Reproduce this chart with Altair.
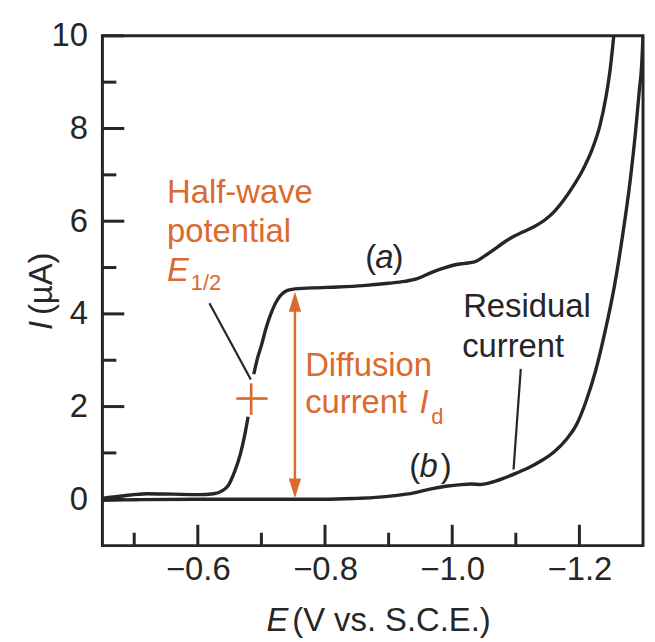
import altair as alt
import pandas as pd

# ---------------- data ----------------
# curve (a): polarographic wave (split where it is interrupted by the E1/2 marker)
a_low_E = [-0.450, -0.480, -0.520, -0.560, -0.600, -0.625, -0.638, -0.648, -0.658, -0.667, -0.674, -0.679]
a_low_I = [0.02, 0.07, 0.12, 0.11, 0.10, 0.12, 0.18, 0.30, 0.60, 0.98, 1.40, 1.78]
a_up_E = [-0.688, -0.694, -0.700, -0.707, -0.714, -0.721, -0.729, -0.738, -0.748, -0.780, -0.820,
          -0.860, -0.900, -0.925, -0.945, -0.965, -0.985, -1.005, -1.020, -1.035, -1.050, -1.065,
          -1.080, -1.095, -1.110, -1.130, -1.145, -1.160, -1.175, -1.190, -1.205, -1.220, -1.232,
          -1.242, -1.249, -1.254]
a_up_I = [2.70, 3.05, 3.32, 3.68, 3.97, 4.20, 4.38, 4.49, 4.53, 4.56, 4.58,
          4.61, 4.66, 4.70, 4.76, 4.88, 4.98, 5.06, 5.09, 5.12, 5.24, 5.38,
          5.53, 5.66, 5.76, 5.89, 6.02, 6.20, 6.45, 6.75, 7.10, 7.55, 8.05,
          8.70, 9.35, 10.0]
# curve (b): residual current
b_E = [-0.450, -0.500, -0.600, -0.700, -0.800, -0.850, -0.880, -0.910, -0.940, -0.965, -0.990,
       -1.010, -1.030, -1.045, -1.060, -1.080, -1.100, -1.120, -1.140, -1.160, -1.180, -1.195,
       -1.210, -1.225, -1.240, -1.255, -1.268, -1.280, -1.288, -1.294, -1.298, -1.300]
b_I = [-0.02, -0.01, 0.00, 0.00, 0.00, 0.02, 0.04, 0.08, 0.14, 0.22, 0.28,
       0.31, 0.33, 0.32, 0.36, 0.45, 0.56, 0.68, 0.83, 1.02, 1.30, 1.60,
       2.10, 2.75, 3.60, 4.60, 5.70, 6.90, 7.90, 8.80, 9.40, 10.0]

x_labels = [-0.6, -0.8, -1.0, -1.2]
x_minor = [-0.5, -0.7, -0.9, -1.1]
y_labels = [0, 2, 4, 6, 8, 10]
y_minor = [1, 3, 5, 7, 9]

# annotation anchors (E, I)
half_E, half_I = -0.5516, [6.383, 5.546, 4.709]
sub12_E, sub12_I = -0.5890, 4.51
diff_E, diff_I = -0.76875, [2.651, 1.867]
id_E, id_I = -0.9485, 1.867
idsub_E, idsub_I = -0.9672, 1.616
resid_E, resid_I = [-1.0172, -1.0156], [3.938, 3.08]
a_par_E, a_let_E, a_cls_E, a_lab_I = -0.8631, -0.8789, -0.9063, 4.982
b_par_E, b_let_E, b_cls_E, b_lab_I = -0.9323, -0.9484, -0.9820, 0.479
lead_half = ([-0.6183, -0.6833], [4.231, 2.586])
lead_resid = ([-1.1078, -1.0964], [2.815, 0.643])
cross_E, cross_I = -0.6839, 2.174
cross_h = [-0.6605, -0.7098]
cross_v = [2.502, 1.822]
arrow_E, arrow_top, arrow_bot = -0.7527, 4.476, 0.02

# ---------------- styling ----------------
W, H = 544, 513
ORANGE = "#DA6A2E"
INK = "#262626"
FONT = "Liberation Sans"
FS = 33

xscale = alt.Scale(domain=[-1.3, -0.45], reverse=True, nice=False, zero=False)
yscale = alt.Scale(domain=[-1, 10], nice=False, zero=False)

rows = []
k = 0
for seg, (es, vals) in {"a1": (a_low_E, a_low_I), "a2": (a_up_E, a_up_I), "b": (b_E, b_I)}.items():
    for e, i in zip(es, vals):
        rows.append({"E": e, "I": i, "seg": seg, "k": k})
        k += 1
curves = pd.DataFrame(rows)

lines = alt.Chart(curves).mark_line(
    color=INK, strokeWidth=3.4, interpolate="monotone", clip=True
).encode(
    x=alt.X("E:Q", scale=xscale, axis=alt.Axis(
        values=x_labels, format=".1f", ticks=False, domain=False, grid=False,
        labelFontSize=FS, labelFont=FONT, labelColor=INK, labelPadding=8, title=None)),
    y=alt.Y("I:Q", scale=yscale, axis=alt.Axis(
        values=y_labels, format="d", ticks=False, domain=False, grid=False,
        labelFontSize=FS, labelFont=FONT, labelColor=INK, labelPadding=15, title=None)),
    detail="seg:N",
    order="k:Q",
)

# inward ticks
def xticks(vals, length):
    return alt.Chart(pd.DataFrame({"v": vals})).mark_rule(color=INK, strokeWidth=3).encode(
        x=alt.X("v:Q", scale=xscale, axis=None), y=alt.value(H), y2=alt.value(H - length))

def yticks(vals, length):
    return alt.Chart(pd.DataFrame({"v": vals})).mark_rule(color=INK, strokeWidth=3).encode(
        y=alt.Y("v:Q", scale=yscale, axis=None), x=alt.value(0), x2=alt.value(length))

def seg_rule(e1, e2, i1, i2, color, width):
    df = pd.DataFrame({"E": [e1], "E2": [e2], "I": [i1], "I2": [i2]})
    return alt.Chart(df).mark_rule(color=color, strokeWidth=width).encode(
        x=alt.X("E:Q", scale=xscale, axis=None), x2="E2:Q",
        y=alt.Y("I:Q", scale=yscale, axis=None), y2="I2:Q")

def texts(es, ys, labels, color, size=FS, style="normal"):
    df = pd.DataFrame({"E": es, "I": ys, "t": labels})
    return alt.Chart(df).mark_text(
        align="left", baseline="alphabetic", font=FONT, fontSize=size,
        fontStyle=style, color=color
    ).encode(
        x=alt.X("E:Q", scale=xscale, axis=None),
        y=alt.Y("I:Q", scale=yscale, axis=None),
        text="t:N")

# arrow
arrow_line = seg_rule(arrow_E, arrow_E, arrow_bot + 0.3, arrow_top - 0.3, ORANGE, 2.5)
head_up = alt.Chart(pd.DataFrame({"E": [arrow_E], "I": [arrow_top]})).mark_point(
    shape="M0,-1L0.62,1L-0.62,1Z", filled=True, size=400, color=ORANGE, opacity=1,
    strokeWidth=0, yOffset=10
).encode(x=alt.X("E:Q", scale=xscale, axis=None), y=alt.Y("I:Q", scale=yscale, axis=None))
head_dn = alt.Chart(pd.DataFrame({"E": [arrow_E], "I": [arrow_bot]})).mark_point(
    shape="M0,1L0.62,-1L-0.62,-1Z", filled=True, size=400, color=ORANGE, opacity=1,
    strokeWidth=0, yOffset=-10
).encode(x=alt.X("E:Q", scale=xscale, axis=None), y=alt.Y("I:Q", scale=yscale, axis=None))

# axis titles (mixed italic / upright)
def ptext(txt, x, y, style="normal", angle=0):
    return alt.Chart(pd.DataFrame({"t": [txt]})).mark_text(
        align="left", baseline="alphabetic", font=FONT, fontSize=FS,
        fontStyle=style, color=INK, angle=angle
    ).encode(text="t:N", x=alt.value(x), y=alt.value(y))

layers = [
    lines,
    xticks(x_labels, 21), xticks(x_minor, 13),
    yticks(y_labels, 22), yticks(y_minor, 14),
    seg_rule(lead_half[0][0], lead_half[0][1], lead_half[1][0], lead_half[1][1], INK, 2.2),
    seg_rule(lead_resid[0][0], lead_resid[0][1], lead_resid[1][0], lead_resid[1][1], INK, 2.2),
    seg_rule(cross_h[0], cross_h[1], cross_I, cross_I, ORANGE, 2.7),
    seg_rule(cross_E, cross_E, cross_v[0], cross_v[1], ORANGE, 2.7),
    arrow_line, head_up, head_dn,
    texts([half_E, half_E], half_I[:2], ["Half-wave", "potential"], ORANGE),
    texts([half_E, id_E], [half_I[2], id_I], ["E", "I"], ORANGE, style="italic"),
    texts([sub12_E, idsub_E], [sub12_I, idsub_I], ["1/2", "d"], ORANGE, size=22),
    texts([diff_E, diff_E], diff_I, ["Diffusion", "current"], ORANGE),
    texts(resid_E, resid_I, ["Residual", "current"], INK),
    texts([a_par_E, a_cls_E, b_par_E, b_cls_E], [a_lab_I, a_lab_I, b_lab_I, b_lab_I],
          ["(", ")", "(", ")"], INK),
    texts([a_let_E, b_let_E], [a_lab_I, b_lab_I], ["a", "b"], INK, style="italic"),
    ptext("E", 165, 599, style="italic"),
    ptext("(V vs. S.C.E.)", 191, 599),
    ptext("I", -51, 296, style="italic", angle=270),
    ptext("(µA)", -51, 281, angle=270),
]

chart = alt.layer(*layers).resolve_axis(
    x="independent", y="independent"
).properties(
    width=W, height=H,
    autosize=alt.AutoSizeParams(type="none"),
    padding={"left": 95, "top": 26, "right": 4, "bottom": 95},
    background="white",
).configure_view(stroke=INK, strokeWidth=3)

chart.save("out.html", embed_options={"renderer": "svg", "actions": False})
